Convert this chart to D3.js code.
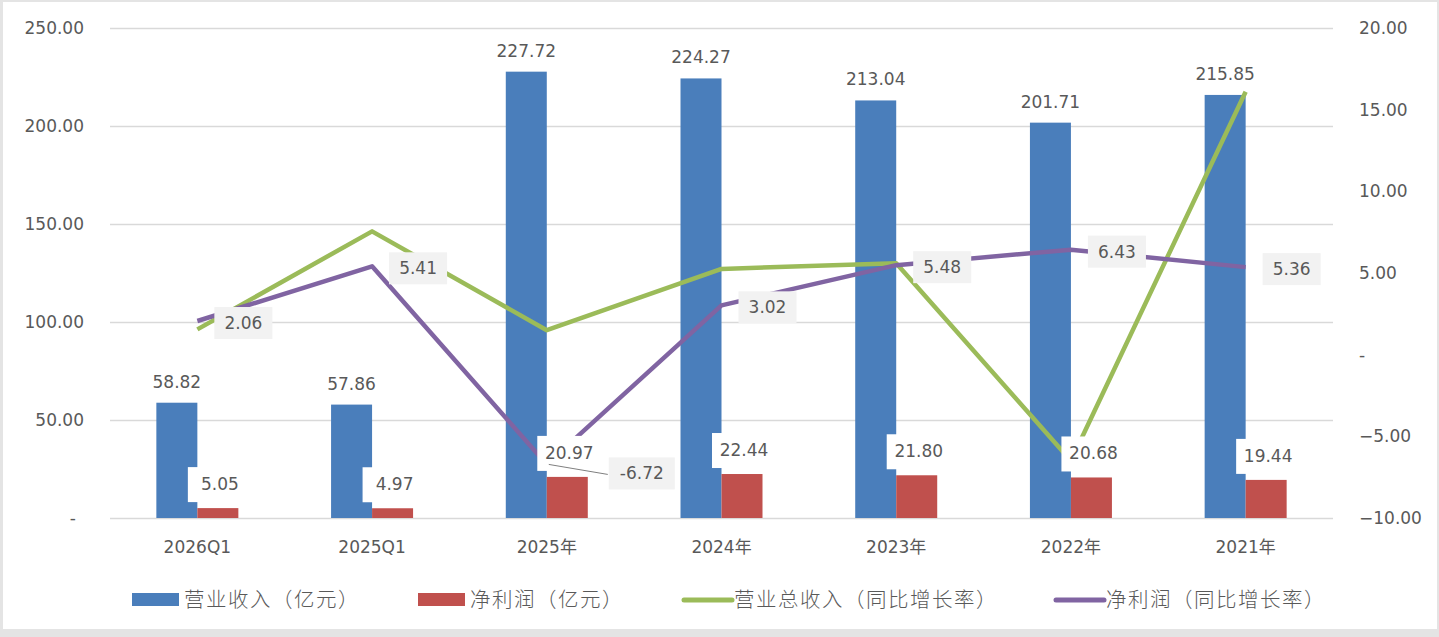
<!doctype html>
<html lang="zh-CN">
<head>
    <meta charset="UTF-8">
    <title>营业收入与净利润</title>
    <style>
        body { margin: 0; background: #fff; }
        text { font-family: "DejaVu Sans", "Noto Sans CJK SC", sans-serif; fill: #595959; }
        .cjk { font-family: "Noto Sans CJK SC", sans-serif; }
    </style>
</head>
<body>
<script src="https://cdn.jsdelivr.net/npm/d3@7"></script>
<script>

    // data
    const categories = ['2026Q1', '2025Q1', '2025年', '2024年', '2023年', '2022年', '2021年']
    const revenue = [58.82, 57.86, 227.72, 224.27, 213.04, 201.71, 215.85]
    const netProfit = [5.05, 4.97, 20.97, 22.44, 21.80, 20.68, 19.44]
    const revenueGrowth = [1.55, 7.55, 1.5, 5.25, 5.6, -6.5, 16.1]
    const profitGrowth = [2.06, 5.41, -6.72, 3.02, 5.48, 6.43, 5.36]
    const leftTicks = [0, 50, 100, 150, 200, 250]
    const rightTicks = [-10, -5, 0, 5, 10, 15, 20]
    const legendNames = ['营业收入（亿元）', '净利润（亿元）', '营业总收入（同比增长率）', '净利润（同比增长率）']

    const W = 1439, H = 637
    const plot = {left: 110, right: 1333, top: 28, bottom: 518}
    const colors = {blue: '#4a7ebb', red: '#c0504d', green: '#9bbb59', purple: '#8064a2'}

    const svg = d3.select('body').append('svg')
        .attr('width', W)
        .attr('height', H)

    // frame
    svg.append('rect').attr('x', 0).attr('y', 0).attr('width', W).attr('height', H).attr('fill', '#e4e4e4')
    svg.append('rect').attr('x', 3).attr('y', 2).attr('width', W - 5).attr('height', 627).attr('fill', '#fff')

    const x = d3.scaleBand()
        .domain(categories)
        .range([plot.left, plot.right])

    const yL = d3.scaleLinear().domain([0, 250]).range([plot.bottom, plot.top])
    const yR = d3.scaleLinear().domain([-10, 20]).range([plot.bottom, plot.top])

    const cx = d => x(d) + x.bandwidth() / 2
    const barW = 41

    // gridlines
    svg.append('g')
        .selectAll('line')
        .data(leftTicks)
        .join('line')
        .attr('x1', plot.left)
        .attr('x2', plot.right)
        .attr('y1', d => Math.round(yL(d)) + 0.5)
        .attr('y2', d => Math.round(yL(d)) + 0.5)
        .attr('stroke', '#d9d9d9')
        .attr('stroke-width', 1.3)

    // left axis
    const fmt = d => d === 0 ? '-' : d3.format('.2f')(d)
    const axisL = svg.append('g')
        .attr('transform', `translate(${plot.left - 26},0)`)
        .call(d3.axisLeft(yL).tickValues(leftTicks).tickFormat(fmt).tickSize(0).tickPadding(0))
    axisL.select('.domain').remove()
    axisL.selectAll('text')
        .attr('font-size', 17)
        .attr('font-family', 'DejaVu Sans')
        .attr('fill', '#595959')
        .attr('dx', d => d === 0 ? -8 : 0)

    // right axis
    const axisR = svg.append('g')
        .attr('transform', `translate(${plot.right + 26},0)`)
        .call(d3.axisRight(yR).tickValues(rightTicks).tickFormat(fmt).tickSize(0).tickPadding(0))
    axisR.select('.domain').remove()
    axisR.selectAll('text')
        .attr('font-size', 17)
        .attr('font-family', 'DejaVu Sans')
        .attr('fill', '#595959')

    // category axis
    const axisB = svg.append('g')
        .attr('transform', `translate(0,${plot.bottom + 20})`)
        .call(d3.axisBottom(x).tickSize(0))
    axisB.select('.domain').remove()
    axisB.selectAll('text')
        .attr('font-size', 17)
        .attr('font-family', '"DejaVu Sans", "Noto Sans CJK SC"')
        .attr('fill', '#595959')

    // bars
    svg.append('g')
        .selectAll('rect')
        .data(categories)
        .join('rect')
        .attr('x', d => cx(d) - barW)
        .attr('width', barW)
        .attr('y', (d, i) => yL(revenue[i]))
        .attr('height', (d, i) => yL(0) - yL(revenue[i]))
        .attr('fill', colors.blue)

    svg.append('g')
        .selectAll('rect')
        .data(categories)
        .join('rect')
        .attr('x', d => cx(d))
        .attr('width', barW)
        .attr('y', (d, i) => yL(netProfit[i]))
        .attr('height', (d, i) => yL(0) - yL(netProfit[i]))
        .attr('fill', colors.red)

    // blue labels
    svg.append('g')
        .selectAll('text')
        .data(categories)
        .join('text')
        .attr('x', d => cx(d) - barW / 2)
        .attr('y', (d, i) => yL(revenue[i]) - 21)
        .attr('dy', '0.35em')
        .attr('text-anchor', 'middle')
        .attr('font-size', 17)
        .attr('fill', '#404040')
        .text((d, i) => revenue[i].toFixed(2))

    // lines
    const lineR = d3.line().x((d, i) => cx(categories[i])).y(d => yR(d))

    svg.append('path')
        .datum(revenueGrowth)
        .attr('d', lineR)
        .attr('fill', 'none')
        .attr('stroke', colors.green)
        .attr('stroke-width', 4.5)
        .attr('stroke-linejoin', 'round')

    svg.append('path')
        .datum(profitGrowth)
        .attr('d', lineR)
        .attr('fill', 'none')
        .attr('stroke', colors.purple)
        .attr('stroke-width', 4.5)
        .attr('stroke-linejoin', 'round')

    // red labels with white boxes
    const redG = svg.append('g')
        .selectAll('g')
        .data(categories)
        .join('g')
        .attr('transform', (d, i) => `translate(${cx(d) + barW / 2},${yL(netProfit[i]) - 24})`)
    redG.append('rect')
        .attr('x', -30).attr('y', -17).attr('width', 62).attr('height', 35)
        .attr('fill', '#fff')
    redG.append('text')
        .attr('x', 2)
        .attr('text-anchor', 'middle')
        .attr('dy', '0.35em')
        .attr('font-size', 17)
        .attr('fill', '#404040')
        .text((d, i) => netProfit[i].toFixed(2))

    // purple labels with grey boxes; the negative one is pushed aside with a leader line
    const offset = profitGrowth.map(v => v < 0 ? {dx: 95, dy: 9} : {dx: 46, dy: 2})

    svg.append('g')
        .selectAll('line')
        .data(categories.filter((d, i) => profitGrowth[i] < 0))
        .join('line')
        .attr('x1', d => cx(d) + 2)
        .attr('y1', d => yR(profitGrowth[categories.indexOf(d)]))
        .attr('x2', d => cx(d) + 61)
        .attr('y2', d => yR(profitGrowth[categories.indexOf(d)]) + 10)
        .attr('stroke', '#7f7f7f')
        .attr('stroke-width', 1)

    const purpleG = svg.append('g')
        .selectAll('g')
        .data(categories)
        .join('g')
        .attr('transform', (d, i) => `translate(${cx(d) + offset[i].dx},${yR(profitGrowth[i]) + offset[i].dy})`)
    purpleG.append('rect')
        .attr('x', (d, i) => profitGrowth[i] < 0 ? -33 : -29)
        .attr('y', -16)
        .attr('width', (d, i) => profitGrowth[i] < 0 ? 66 : 58)
        .attr('height', 32)
        .attr('fill', '#f2f2f2')
    purpleG.append('text')
        .attr('text-anchor', 'middle')
        .attr('dy', '0.35em')
        .attr('font-size', 17)
        .attr('fill', '#404040')
        .text((d, i) => profitGrowth[i].toFixed(2))

    // legend
    const legendKinds = [
        {color: colors.blue, type: 'rect'},
        {color: colors.red, type: 'rect'},
        {color: colors.green, type: 'line'},
        {color: colors.purple, type: 'line'}
    ]
    const legend = svg.append('g').attr('transform', 'translate(0,600)')
    const items = legend.selectAll('g')
        .data(legendNames)
        .join('g')
    items.each(function(d, i) {
        const g = d3.select(this)
        const k = legendKinds[i]
        if (k.type === 'rect') {
            g.append('rect').attr('x', 0).attr('y', -7).attr('width', 47).attr('height', 13).attr('fill', k.color)
        } else {
            g.append('line').attr('x1', 2).attr('x2', 50).attr('y1', 0).attr('y2', 0)
                .attr('stroke', k.color).attr('stroke-width', 5).attr('stroke-linecap', 'round')
        }
        g.append('text')
            .attr('class', 'cjk')
            .attr('x', 52)
            .attr('dy', '0.36em')
            .attr('font-size', 20.5)
            .attr('font-weight', 300)
            .attr('letter-spacing', 1.5)
            .attr('fill', '#595959')
            .text(d)
    })
    const widths = []
    items.each(function() { widths.push(this.getBBox().width) })
    let pos = 132
    items.attr('transform', (d, i) => {
        const t = `translate(${pos},0)`
        pos += widths[i] + 58
        return t
    })

</script>
</body>
</html>
